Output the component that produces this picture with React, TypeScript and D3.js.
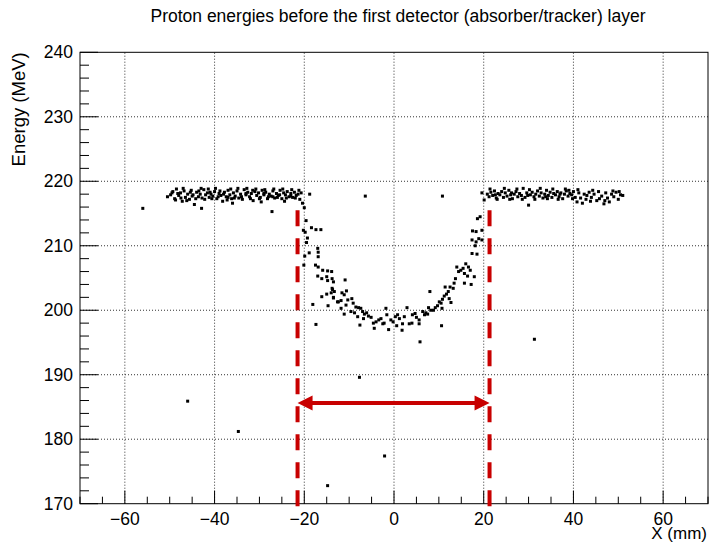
import React from "react";
import * as d3 from "d3";

const title = "Proton energies before the first detector (absorber/tracker) layer";
const xLabel = "X (mm)";
const yLabel = "Energy (MeV)";
const xDomain = [-70, 70];
const yDomain = [170, 240];
const xMajorTicks = [-60, -40, -20, 0, 20, 40, 60];
const yMajorTicks = [170, 180, 190, 200, 210, 220, 230, 240];
const markerLeftX = -21.5;
const markerRightX = 21.3;
const markerTopY = 215.5;
const markerBottomY = 169.5;
const arrowY = 185.6;

const leftBand: [number, number][] = [
  [-50.5, 217.6], [-49.8, 217.9], [-49.3, 218.4], [-48.9, 217.3], [-48.5, 218.8], [-48.0, 217.8],
  [-47.6, 218.2], [-47.2, 216.9], [-46.8, 218.5], [-46.5, 217.5], [-46.0, 218.0], [-45.6, 217.2],
  [-45.2, 218.6], [-44.8, 217.9], [-44.5, 216.4], [-44.0, 218.3], [-43.6, 217.6], [-43.2, 218.0],
  [-42.8, 217.4], [-42.4, 218.7], [-42.0, 217.9], [-41.6, 218.2], [-41.2, 217.5], [-40.8, 218.0],
  [-40.4, 217.7], [-40.0, 218.4], [-39.5, 217.3], [-39.0, 218.1], [-38.6, 217.8], [-38.2, 216.9],
  [-37.8, 218.3], [-37.4, 217.6], [-37.0, 218.6], [-36.6, 217.9], [-36.2, 217.3], [-35.8, 218.2],
  [-35.4, 217.7], [-35.0, 218.5], [-34.6, 217.4], [-34.2, 218.0], [-33.8, 217.2], [-33.4, 218.7],
  [-33.0, 217.9], [-32.6, 218.3], [-32.2, 217.6], [-31.8, 218.1], [-31.4, 217.0], [-31.0, 218.4],
  [-30.6, 217.8], [-30.2, 218.2], [-29.8, 217.5], [-29.4, 218.6], [-29.0, 217.9], [-28.6, 218.3],
  [-28.2, 217.3], [-27.8, 218.0], [-27.4, 217.7], [-27.0, 218.5], [-26.6, 217.4], [-26.2, 218.1],
  [-25.8, 217.8], [-25.4, 218.6], [-25.0, 217.3], [-24.6, 218.2], [-24.2, 217.9], [-23.8, 218.4],
  [-23.4, 217.6], [-23.0, 218.1], [-22.6, 217.5], [-22.2, 218.3], [-21.8, 217.8], [-21.4, 218.0],
  [-21.0, 217.2], [-20.7, 218.2], [-48.2, 218.1], [-45.0, 217.7], [-41.0, 218.3], [-37.0, 217.5],
  [-33.0, 218.1], [-29.0, 218.1], [-25.5, 217.9], [-23.0, 217.7], [-38.8, 218.5], [-43.5, 218.5],
  [-47.5, 217.4], [-31.5, 218.6], [-27.0, 217.6],
  [-49.5, 218.2], [-48.7, 217.1], [-47.0, 218.9], [-46.2, 217.0], [-45.4, 218.3], [-44.2, 217.3],
  [-43.0, 218.9], [-42.2, 217.2], [-41.4, 218.8], [-40.6, 217.3], [-39.8, 218.9], [-39.2, 217.6],
  [-38.0, 218.0], [-37.2, 217.1], [-36.4, 218.8], [-35.6, 217.4], [-34.8, 218.9], [-34.0, 217.6],
  [-32.8, 218.9], [-32.0, 217.3], [-30.8, 218.8], [-30.0, 217.3], [-28.8, 218.7], [-28.0, 217.6],
  [-26.8, 218.8], [-26.0, 217.5], [-24.8, 218.8], [-24.0, 217.4], [-22.8, 218.7], [-22.0, 217.4],
  [-21.2, 218.6], [-36.0, 216.6], [-29.6, 216.8], [-24.4, 216.9],
];

const dip: [number, number][] = [
  [-20.4, 216.6], [-20.0, 215.9], [-19.6, 213.9], [-20.2, 212.4], [-19.8, 212.1], [-19.3, 211.2],
  [-19.5, 210.5], [-18.4, 212.8], [-17.4, 212.5], [-16.3, 212.5], [-18.9, 208.9], [-17.0, 209.6],
  [-16.9, 209.0], [-16.9, 208.3], [-19.9, 208.4], [-20.1, 207.0], [-17.5, 207.0], [-16.9, 206.7],
  [-15.9, 206.2], [-14.8, 206.1], [-13.9, 206.0], [-17.0, 205.3], [-16.1, 204.9], [-15.0, 205.2],
  [-14.8, 204.6], [-13.8, 204.9], [-13.7, 203.2], [-14.0, 202.7], [-16.1, 202.1], [-15.0, 202.5],
  [-13.5, 201.9], [-12.4, 201.3], [-18.1, 200.9], [-14.7, 200.7], [-17.4, 197.8],
  [-13.5, 204.4], [-13.8, 203.4], [-13.3, 202.9], [-13.5, 202.0], [-10.9, 204.7], [-11.6, 202.7],
  [-11.1, 202.4], [-10.6, 203.0], [-12.6, 201.3], [-11.8, 201.5], [-10.3, 201.6], [-9.4, 201.8],
  [-9.1, 201.1], [-8.5, 200.5], [-7.9, 200.4], [-7.4, 200.3], [-11.8, 200.3], [-10.7, 200.8],
  [-11.1, 199.4], [-9.6, 199.8], [-8.8, 199.6], [-8.1, 199.0], [-7.6, 197.7], [-7.0, 199.8],
  [-6.6, 199.4], [-6.1, 199.6], [-5.7, 199.1], [-6.8, 198.7], [-5.1, 198.9], [-4.6, 198.0],
  [-4.4, 197.2], [-4.0, 198.2], [-3.4, 198.5], [-2.9, 198.7], [-2.5, 197.9], [-2.2, 198.0],
  [-1.8, 200.3], [-1.6, 199.3], [-1.2, 197.0], [-0.7, 198.5], [-0.2, 198.2], [0.3, 199.0],
  [0.8, 199.3], [1.2, 198.7], [0.6, 197.6], [1.8, 196.9], [1.9, 197.9], [2.3, 199.0],
  [2.9, 200.4], [3.4, 197.9], [4.0, 198.0], [4.1, 199.3], [4.7, 199.5], [5.0, 198.9],
  [5.6, 198.5], [5.6, 197.9], [6.4, 199.8], [6.8, 199.3], [7.1, 199.6], [7.7, 200.4],
  [7.5, 199.4], [8.0, 202.9], [8.2, 200.0], [8.8, 200.0], [9.2, 200.4], [9.7, 200.7],
  [10.1, 201.3], [10.5, 201.1], [10.6, 197.6], [10.8, 201.7], [11.2, 202.2], [10.7, 200.3],
  [11.4, 203.6], [11.7, 202.5], [12.1, 202.9], [12.5, 203.6], [12.3, 201.8], [12.7, 201.2],
  [13.2, 203.4], [13.4, 204.2], [13.7, 204.9], [14.0, 206.7], [14.4, 206.0], [14.9, 206.2],
  [15.4, 206.5], [16.0, 207.2], [16.6, 206.7], [15.7, 205.7], [16.4, 205.3], [15.7, 204.2],
  [17.0, 206.2], [17.2, 204.0], [17.9, 205.2], [17.4, 208.8], [18.5, 208.7], [18.1, 210.0],
  [18.3, 210.6], [17.4, 210.9], [18.9, 211.1], [17.5, 212.3], [18.3, 212.2], [19.6, 212.4],
  [18.6, 214.2], [19.2, 214.5], [19.6, 218.2], [20.1, 217.1], [19.6, 210.9],
];

const rightBand: [number, number][] = [
  [20.8, 218.0], [21.2, 217.6], [21.6, 218.3], [22.0, 217.8], [22.4, 218.5], [22.8, 217.4],
  [23.2, 218.1], [23.6, 217.9], [24.0, 218.4], [24.4, 217.5], [24.8, 218.2], [25.2, 217.7],
  [25.6, 218.6], [26.0, 217.9], [26.4, 217.3], [26.8, 218.0], [27.2, 218.4], [27.6, 217.6],
  [28.0, 218.1], [28.4, 217.8], [28.8, 218.9], [29.2, 217.5], [29.6, 218.2], [30.0, 216.3],
  [30.4, 217.9], [30.8, 218.3], [31.2, 217.6], [31.6, 218.0], [32.0, 218.5], [32.4, 217.7],
  [32.8, 218.2], [33.2, 217.4], [33.6, 218.0], [34.0, 218.6], [34.4, 217.8], [34.8, 218.3],
  [35.2, 217.5], [35.6, 218.1], [36.0, 217.9], [36.4, 218.4], [36.8, 217.6], [37.2, 218.2],
  [37.6, 217.3], [38.0, 218.0], [38.4, 218.5], [38.8, 217.7], [39.2, 218.1], [39.6, 217.9],
  [40.0, 218.4], [40.4, 217.5], [40.8, 216.8], [41.2, 218.2], [41.6, 217.4], [42.0, 216.6],
  [42.4, 218.0], [42.8, 217.2], [43.5, 218.3], [44.0, 217.5], [44.6, 218.0], [45.2, 217.0],
  [45.6, 218.4], [46.3, 217.7], [46.8, 216.5], [47.2, 218.2], [47.6, 217.4], [48.0, 216.8],
  [48.5, 218.0], [49.0, 217.6], [49.5, 218.3], [50.0, 217.2], [50.5, 217.9], [51.0, 217.8],
  [22.6, 217.9], [26.2, 218.2], [29.8, 217.8], [33.8, 217.6], [37.0, 218.0], [39.0, 218.6],
  [21.4, 218.8], [23.0, 217.2], [24.6, 218.9], [25.8, 217.2], [27.4, 218.8], [28.6, 217.2],
  [30.2, 218.7], [31.4, 217.2], [32.6, 218.9], [34.2, 217.3], [35.4, 218.8], [36.6, 217.2],
  [38.2, 218.8], [39.8, 217.3], [41.0, 218.7], [43.0, 217.8], [44.3, 218.6], [45.8, 217.3],
  [47.0, 217.0], [48.8, 218.5], [50.2, 218.4], [43.8, 216.9],
];

const outliers: [number, number][] = [
  [-56.0, 215.8], [-42.9, 215.8], [-46.0, 185.9], [-34.7, 181.2], [-27.2, 215.3], [-18.8, 218.0],
  [-6.4, 217.7], [10.8, 217.7], [-7.7, 189.6], [-2.1, 177.4], [-14.8, 172.8], [31.3, 195.5],
  [5.8, 195.1],
];

const W = 710;
const H = 543;
const FONT = "'Liberation Sans', Arial, Helvetica, sans-serif";
const RED = "#c80000";

export default function App() {
  const x = d3.scaleLinear().domain(xDomain).range([80, 708]);
  const y = d3.scaleLinear().domain(yDomain).range([503.7, 52.3]);
  const [x0, x1] = x.range();
  const [y0, y1] = y.range();
  const xMinor = d3.range(xDomain[0], xDomain[1] + 0.001, 5);
  const yMinor = d3.range(yDomain[0], yDomain[1] + 0.001, 2);
  const xGrid = xMajorTicks;
  const yGrid = yMajorTicks.filter((v) => v > yDomain[0] && v < yDomain[1]);
  const allPts = [...leftBand, ...dip, ...rightBand, ...outliers];
  const ay = y(arrowY);
  const axL = x(markerLeftX);
  const axR = x(markerRightX);
  const head = 15;
  const hw = 7.5;

  return (
    <svg width={W} height={H} style={{ position: "absolute", left: 0, top: 0, background: "#fff" }}>
      <rect x={0} y={0} width={W} height={H} fill="#fff" />
      <text x={398} y={22} textAnchor="middle" fontFamily={FONT} fontSize={17.5} fill="#000">
        {title}
      </text>
      {/* grid */}
      {xGrid.map((v) => (
        <line key={"gx" + v} x1={x(v)} x2={x(v)} y1={y0} y2={y1} stroke="#333" strokeWidth={1} strokeDasharray="1,2" />
      ))}
      {yGrid.map((v) => (
        <line key={"gy" + v} x1={x0} x2={x1} y1={y(v)} y2={y(v)} stroke="#333" strokeWidth={1} strokeDasharray="1,2" />
      ))}
      {/* ticks */}
      {xMinor.map((v) => {
        const major = xMajorTicks.includes(v);
        return (
          <line key={"tx" + v} x1={x(v)} x2={x(v)} y1={y0} y2={y0 - (major ? 13 : 7)} stroke="#000" strokeWidth={1} />
        );
      })}
      {yMinor.map((v) => {
        const major = yMajorTicks.includes(Math.round(v));
        return (
          <line key={"ty" + v} x1={x0} x2={x0 + (major ? 18 : 9)} y1={y(v)} y2={y(v)} stroke="#000" strokeWidth={1} />
        );
      })}
      <rect x={x0} y={y1} width={x1 - x0} height={y0 - y1} fill="none" stroke="#000" strokeWidth={1} />
      {/* tick labels */}
      {xMajorTicks.map((v) => (
        <text key={"lx" + v} x={x(v)} y={524.5} textAnchor="middle" fontFamily={FONT} fontSize={17.5} fill="#000">
          {v < 0 ? "\u2212" + Math.abs(v) : String(v)}
        </text>
      ))}
      {yMajorTicks.map((v) => (
        <text key={"ly" + v} x={73} y={y(v) + 6} textAnchor="end" fontFamily={FONT} fontSize={17.5} fill="#000">
          {String(v)}
        </text>
      ))}
      <text x={707} y={539} textAnchor="end" fontFamily={FONT} fontSize={17} fill="#000">
        {xLabel}
      </text>
      <text
        transform={`translate(25, ${y1}) rotate(-90)`}
        textAnchor="end"
        fontFamily={FONT}
        fontSize={18.5}
        fill="#000"
      >
        {yLabel}
      </text>
      {/* points */}
      {allPts.map((p, i) => (
        <rect key={"p" + i} x={x(p[0]) - 1.5} y={y(p[1]) - 1.5} width={3} height={3} fill="#000" />
      ))}
      {/* markers */}
      {[markerLeftX, markerRightX].map((v) => (
        <line
          key={"m" + v}
          x1={x(v)}
          x2={x(v)}
          y1={y(markerTopY)}
          y2={y(markerBottomY)}
          stroke={RED}
          strokeWidth={4}
          strokeDasharray="16,12"
        />
      ))}
      <line x1={axL + head - 1} x2={axR - head + 1} y1={ay} y2={ay} stroke={RED} strokeWidth={4} />
      <path d={`M${axL},${ay} L${axL + head},${ay - hw} L${axL + head},${ay + hw} Z`} fill={RED} />
      <path d={`M${axR},${ay} L${axR - head},${ay - hw} L${axR - head},${ay + hw} Z`} fill={RED} />
    </svg>
  );
}
